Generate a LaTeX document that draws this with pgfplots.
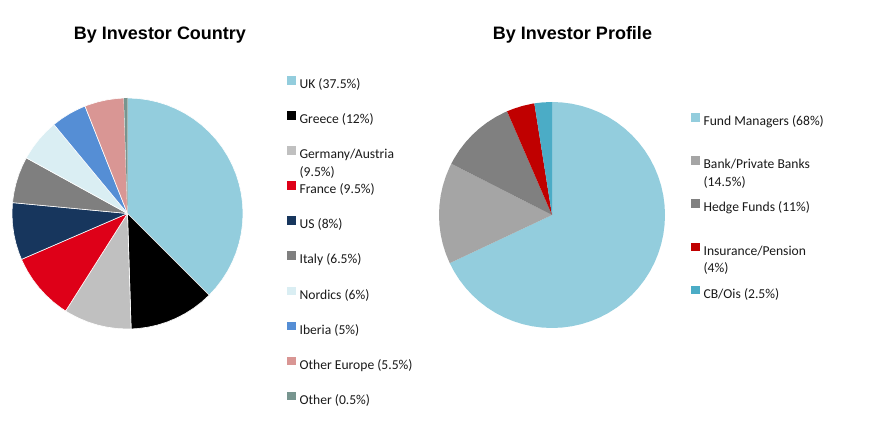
\documentclass[border=0pt]{standalone}
\usepackage{pgfplots}
\pgfplotsset{compat=1.18}
\usepackage{fontspec}
\setmainfont{Liberation Sans}
\newfontfamily\carlito{Carlito}
\newfontfamily\arialf{Liberation Sans}

\definecolor{cUK}{HTML}{93CDDD}
\definecolor{cGR}{HTML}{000000}
\definecolor{cDE}{HTML}{C0C0C0}
\definecolor{cFR}{HTML}{DE0018}
\definecolor{cUS}{HTML}{17365D}
\definecolor{cIT}{HTML}{7F7F7F}
\definecolor{cNO}{HTML}{DAEEF3}
\definecolor{cIB}{HTML}{558ED5}
\definecolor{cOE}{HTML}{D99694}
\definecolor{cOT}{HTML}{77958F}
\definecolor{cFM}{HTML}{93CDDD}
\definecolor{cBK}{HTML}{A5A5A5}
\definecolor{cHF}{HTML}{808080}
\definecolor{cIN}{HTML}{C00000}
\definecolor{cCB}{HTML}{4BACC6}

\pgfplotsset{
  piebase/.style={
    hide axis, clip=false, data cs=polar,
    xmin=-1, xmax=1, ymin=-1, ymax=1,
    anchor=center,
    legend image code/.code={\fill[##1, draw=none] (-0.3bp,0.3bp) rectangle (8.8bp,9bp);},
    legend cell align=left,
    title style={font=\arialf\bfseries\fontsize{18bp}{21bp}\selectfont, anchor=base, inner sep=0pt},
  },
}

\begin{document}
\begin{tikzpicture}
\path[use as bounding box] (0,0) rectangle (880bp,434bp);

% ---- By Investor Country: UK 37.5, Greece 12, Germany/Austria 9.5, France 9.5, US 8,
% Italy 6.5, Nordics 6, Iberia 5, Other Europe 5.5, Other 0.5 (percent, clockwise from top)
\begin{axis}[piebase,
  at={(127.5bp,220.5bp)}, x=115.5bp, y=115.5bp,
  title={By Investor Country},
  title style={at={(axis description cs:0.6407,1.2264)}},
  legend style={draw=none, fill=none, inner sep=0pt, anchor=north west,
    at={(axis description cs:1.1905,1.0952)},
    row sep=19.55bp, column sep=3.3bp,
    font=\carlito\fontsize{13.6bp}{17.3bp}\selectfont, text=black!90,
    nodes={inner sep=0pt, text height=10bp, text depth=3bp}},
  every axis plot/.append style={draw=white, line width=0.6bp, line join=round},
]
\addplot[fill=cUK] coordinates {(0,0) (90,1) (85,1) (80,1) (75,1) (70,1) (65,1) (60,1) (55,1) (50,1) (45,1) (40,1) (35,1) (30,1) (25,1) (20,1) (15,1) (10,1) (5,1) (0,1) (-5,1) (-10,1) (-15,1) (-20,1) (-25,1) (-30,1) (-35,1) (-40,1) (-45,1) (0,0)} -- cycle;
\addlegendentry{UK (37.5\%)}
\addplot[fill=cGR] coordinates {(0,0) (-45,1) (-50,1) (-55,1) (-60,1) (-65,1) (-70,1) (-75,1) (-80,1) (-85,1) (-88.2,1) (0,0)} -- cycle;
\addlegendentry{Greece (12\%)}
\addplot[fill=cDE] coordinates {(0,0) (-88.2,1) (-90,1) (-95,1) (-100,1) (-105,1) (-110,1) (-115,1) (-120,1) (-122.4,1) (0,0)} -- cycle;
\addlegendentry{\begin{tabular}[t]{@{}l@{}}Germany/Austria\\(9.5\%)\end{tabular}}
\addplot[fill=cFR] coordinates {(0,0) (-122.4,1) (-125,1) (-130,1) (-135,1) (-140,1) (-145,1) (-150,1) (-155,1) (-156.6,1) (0,0)} -- cycle;
\addlegendentry{France (9.5\%)}
\addplot[fill=cUS] coordinates {(0,0) (-156.6,1) (-160,1) (-165,1) (-170,1) (-175,1) (-180,1) (-185,1) (-185.4,1) (0,0)} -- cycle;
\addlegendentry{US (8\%)}
\addplot[fill=cIT] coordinates {(0,0) (-185.4,1) (-190,1) (-195,1) (-200,1) (-205,1) (-208.8,1) (0,0)} -- cycle;
\addlegendentry{Italy (6.5\%)}
\addplot[fill=cNO] coordinates {(0,0) (-208.8,1) (-210,1) (-215,1) (-220,1) (-225,1) (-230,1) (-230.4,1) (0,0)} -- cycle;
\addlegendentry{Nordics (6\%)}
\addplot[fill=cIB] coordinates {(0,0) (-230.4,1) (-235,1) (-240,1) (-245,1) (-248.4,1) (0,0)} -- cycle;
\addlegendentry{Iberia (5\%)}
\addplot[fill=cOE] coordinates {(0,0) (-248.4,1) (-250,1) (-255,1) (-260,1) (-265,1) (-268.2,1) (0,0)} -- cycle;
\addlegendentry{Other Europe (5.5\%)}
\addplot[fill=cOT, draw=none] coordinates {(0,0) (-268.2,1) (-270,1) (0,0)} -- cycle;
\addlegendentry{Other (0.5\%)}
\end{axis}

% ---- By Investor Profile: Fund Managers 68, Bank/Private Banks 14.5, Hedge Funds 11,
% Insurance/Pension 4, CB/Ois 2.5 (percent, clockwise from top)
\begin{axis}[piebase,
  at={(552bp,219bp)}, x=113bp, y=113bp,
  title={By Investor Profile},
  title style={at={(axis description cs:0.5907,1.2491)}},
  legend style={draw=none, fill=none, inner sep=0pt, anchor=north west,
    at={(axis description cs:1.115,0.9513)},
    row sep=27.6bp, column sep=3.3bp,
    font=\carlito\fontsize{13.6bp}{17.3bp}\selectfont, text=black!90,
    nodes={inner sep=0pt, text height=10bp, text depth=3bp}},
  every axis plot/.append style={draw=none},
]
\addplot[fill=cFM] coordinates {(0,0) (90,1) (85,1) (80,1) (75,1) (70,1) (65,1) (60,1) (55,1) (50,1) (45,1) (40,1) (35,1) (30,1) (25,1) (20,1) (15,1) (10,1) (5,1) (0,1) (-5,1) (-10,1) (-15,1) (-20,1) (-25,1) (-30,1) (-35,1) (-40,1) (-45,1) (-50,1) (-55,1) (-60,1) (-65,1) (-70,1) (-75,1) (-80,1) (-85,1) (-90,1) (-95,1) (-100,1) (-105,1) (-110,1) (-115,1) (-120,1) (-125,1) (-130,1) (-135,1) (-140,1) (-145,1) (-150,1) (-154.8,1) (0,0)} -- cycle;
\addlegendentry{Fund Managers (68\%)}
\addplot[fill=cBK] coordinates {(0,0) (-154.8,1) (-155,1) (-160,1) (-165,1) (-170,1) (-175,1) (-180,1) (-185,1) (-190,1) (-195,1) (-200,1) (-205,1) (-207,1) (0,0)} -- cycle;
\addlegendentry{\begin{tabular}[t]{@{}l@{}}Bank/Private Banks\\(14.5\%)\end{tabular}}
\addplot[fill=cHF] coordinates {(0,0) (-207,1) (-210,1) (-215,1) (-220,1) (-225,1) (-230,1) (-235,1) (-240,1) (-245,1) (-246.6,1) (0,0)} -- cycle;
\addlegendentry{Hedge Funds (11\%)}
\addplot[fill=cIN] coordinates {(0,0) (-246.6,1) (-250,1) (-255,1) (-260,1) (-261,1) (0,0)} -- cycle;
\addlegendentry{\begin{tabular}[t]{@{}l@{}}Insurance/Pension\\(4\%)\end{tabular}}
\addplot[fill=cCB] coordinates {(0,0) (-261,1) (-265,1) (-270,1) (0,0)} -- cycle;
\addlegendentry{CB/Ois (2.5\%)}
\end{axis}
\end{tikzpicture}
\end{document}
